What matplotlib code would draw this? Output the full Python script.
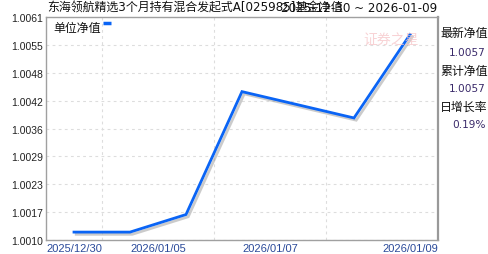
import numpy as np
import matplotlib
matplotlib.use("Agg")
import matplotlib.pyplot as plt
import matplotlib.patheffects as pe

plt.rcParams['font.family'] = ['DejaVu Sans', 'Noto Sans CJK SC']

# data
dates = ["2025/12/30", "2025/12/31", "2026/01/05", "2026/01/06",
         "2026/01/07", "2026/01/08", "2026/01/09"]
nav = [1.0012, 1.0012, 1.0016, 1.0044, 1.0041, 1.0038, 1.0057]
ytick_labels = ["1.0010", "1.0017", "1.0023", "1.0029", "1.0036",
                "1.0042", "1.0048", "1.0055", "1.0061"]
xtick_labels = ["2025/12/30", "2026/01/05", "2026/01/07", "2026/01/09"]
fund_name = "东海领航精选3个月持有混合发起式A[025985]基金净值"
date_range = "2025-12-30 ~ 2026-01-09"
info_labels = ["最新净值", "累计净值", "日增长率"]
info_values = ["1.0057", "1.0057", "0.19%"]

W, H = 488, 255
fig = plt.figure(figsize=(W / 100, H / 100), dpi=100)
ax = fig.add_axes([46 / W, 1 - 241 / H, 392 / W, 223 / H])

x = np.arange(len(dates))
ax.plot(x, nav, color="#0a64f5", lw=2.0, solid_joinstyle="miter",
        path_effects=[pe.SimpleLineShadow(offset=(1.6, -1.6), shadow_color="#999999", alpha=0.5),
                      pe.Normal()], zorder=3)

ymin, ymax = 1.00102, 1.00610
ax.set_xlim(-0.5, len(dates) - 0.5)
ax.set_ylim(ymin, ymax)
yt = np.linspace(ymin, ymax, len(ytick_labels))
ax.set_yticks(yt)
ax.set_yticklabels(ytick_labels, fontsize=7.5, family="Liberation Sans", color="#222222")
ax.set_xticks([-0.5, 1.5, 3.5, 6.5])
ax.set_xticklabels(xtick_labels, fontsize=8, family="Liberation Sans", color="#2a4a9a")
xl = ax.get_xticklabels()
xl[0].set_ha("left")
xl[-1].set_ha("right")
ax.tick_params(length=0, pad=2)
ax.tick_params(axis="x", pad=2)

ax.set_xticks(np.arange(0.5, 5, 1), minor=True)
ax.tick_params(which="minor", length=0)
ax.grid(True, which="minor", axis="x", color="#dddddd", lw=0.8, ls=(0, (2.5, 3)))
ax.grid(True, which="major", axis="y", color="#dddddd", lw=0.8, ls=(0, (2.5, 3)))

for side in ["left", "bottom", "top"]:
    ax.spines[side].set_color("#a0a0a0")
    ax.spines[side].set_linewidth(1)
ax.spines["right"].set_color("#999999")
ax.spines["right"].set_linewidth(1.6)

# legend inside plot
ax.text(0.018, 0.955, "单位净值", transform=ax.transAxes, fontsize=8.6,
        va="center", ha="left", color="#111111")
ax.plot([0.145, 0.166], [0.972, 0.972], transform=ax.transAxes,
        color="#0a64f5", lw=2.5, solid_capstyle="butt", clip_on=False)

# watermark
ax.text(0.95, 0.9, "证券之星", transform=ax.transAxes, fontsize=10,
        color="#f6c4c7", alpha=0.75, ha="right", va="center", style="italic")

# title (two overlapping texts like the original)
fig.text(47 / W, 1 - 8 / H, fund_name, fontsize=8.6, va="center", ha="left", color="#111111")
fig.text(437 / W, 1 - 8 / H, date_range, fontsize=8.6, va="center", ha="right",
         color="#111111")

# right info panel
ys_lab = [34, 72, 107]
ys_val = [53, 89, 125]
for lab, val, yl, yv in zip(info_labels, info_values, ys_lab, ys_val):
    fig.text(440 / W, 1 - yl / H, lab, fontsize=8.6, va="center", ha="left", color="#111111")
    fig.text(486 / W, 1 - yv / H, val, fontsize=7.6, va="center", ha="right",
             color="#3a2a6a")

fig.savefig("out.png", dpi=100, facecolor="white")
